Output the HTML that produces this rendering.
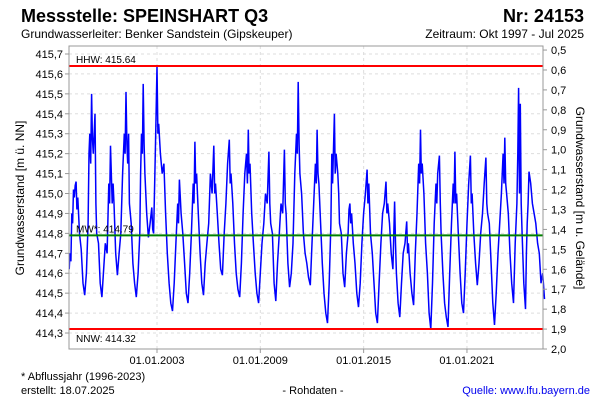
<!DOCTYPE html>
<html><head><meta charset="utf-8"><style>
body{margin:0;background:#fff;font-family:"Liberation Sans",sans-serif;}
svg text{font-family:"Liberation Sans",sans-serif;}
</style></head><body>
<svg width="600" height="400" viewBox="0 0 600 400">
<text x="21" y="22" font-size="18" font-weight="bold">Messstelle: SPEINSHART Q3</text>
<text x="584" y="22" font-size="18" font-weight="bold" text-anchor="end">Nr: 24153</text>
<text x="21" y="38" font-size="12">Grundwasserleiter:   Benker Sandstein (Gipskeuper)</text>
<text x="584" y="38" font-size="12" text-anchor="end">Zeitraum: Okt 1997 - Jul 2025</text>
<g id="grid"></g>
<g id="plot"></g>
<rect x="69" y="46" width="474" height="303" fill="none" stroke="#999" stroke-width="1"/>
<g id="axes"></g>
<text transform="translate(24,198) rotate(-90)" font-size="12" text-anchor="middle">Grundwasserstand [m ü. NN]</text>
<text transform="translate(576,198) rotate(90)" font-size="12" text-anchor="middle">Grundwasserstand [m u. Gelände]</text>
<text x="21" y="380" font-size="11">* Abflussjahr (1996-2023)</text>
<text x="21" y="394" font-size="11">erstellt:  18.07.2025</text>
<text x="313" y="394" font-size="11" text-anchor="middle">- Rohdaten -</text>
<text x="590" y="394" font-size="11" fill="#0000ee" text-anchor="end">Quelle: www.lfu.bayern.de</text>
</svg>
<script>
const leftTicks=[415.7,415.6,415.5,415.4,415.3,415.2,415.1,415.0,414.9,414.8,414.7,414.6,414.5,414.4,414.3];
const rightTicks=[0.5,0.6,0.7,0.8,0.9,1.0,1.1,1.2,1.3,1.4,1.5,1.6,1.7,1.8,1.9,2.0];
const dateTicks=[2003,2009,2015,2021];
const dateLabels=["01.01.2003","01.01.2009","01.01.2015","01.01.2021"];
const refNames=["HHW: 415.64","MW*: 414.79","NNW: 414.32"];
const refValues=[415.64,414.79,414.32];
const years=[1997.9,1997.95,1998.0,1998.05,1998.1,1998.15,1998.2,1998.25,1998.3,1998.35,1998.4,1998.5,1998.6,1998.7,1998.8,1998.9,1999.0,1999.05,1999.1,1999.15,1999.2,1999.25,1999.3,1999.4,1999.45,1999.5,1999.6,1999.7,1999.8,
2000.0,2000.1,2000.2,2000.25,2000.3,2000.4,2000.45,2000.5,2000.6,2000.7,2000.8,2000.9,2001.0,2001.1,2001.15,2001.2,2001.25,2001.3,2001.35,2001.4,2001.5,2001.6,2001.7,2001.8,2001.9,2002.0,2002.05,2002.1,2002.15,2002.2,2002.25,2002.3,2002.4,2002.5,2002.6,2002.7,2002.75,2002.8,2002.9,2002.95,2003.0,2003.05,2003.1,2003.2,2003.3,2003.4,2003.5,2003.6,2003.7,2003.8,2003.9,
2004.0,2004.1,2004.2,2004.25,2004.3,2004.4,2004.5,2004.6,2004.7,2004.8,2004.9,2005.0,2005.1,2005.15,2005.2,2005.25,2005.3,2005.4,2005.5,2005.6,2005.7,2005.8,2005.9,2006.0,2006.1,2006.2,2006.3,2006.35,2006.4,2006.5,2006.6,2006.7,2006.8,2006.9,2007.0,2007.1,2007.2,2007.25,2007.3,2007.4,2007.5,2007.6,2007.7,2007.8,2007.9,2008.0,2008.1,2008.2,2008.25,2008.3,2008.35,2008.4,2008.5,2008.6,2008.7,2008.8,2008.9,
2009.0,2009.1,2009.2,2009.3,2009.4,2009.5,2009.55,2009.6,2009.7,2009.8,2009.9,2010.0,2010.1,2010.2,2010.3,2010.4,2010.45,2010.5,2010.6,2010.7,2010.8,2010.9,2011.0,2011.1,2011.15,2011.2,2011.25,2011.3,2011.4,2011.5,2011.6,2011.7,2011.8,2011.9,2012.0,2012.1,2012.2,2012.25,2012.3,2012.35,2012.4,2012.5,2012.6,2012.7,2012.8,2012.9,2013.0,2013.1,2013.15,2013.2,2013.3,2013.35,2013.4,2013.5,2013.55,2013.6,2013.7,2013.8,2013.9,
2014.0,2014.1,2014.15,2014.2,2014.25,2014.3,2014.4,2014.5,2014.6,2014.7,2014.8,2014.9,2015.0,2015.1,2015.2,2015.25,2015.3,2015.4,2015.5,2015.6,2015.7,2015.8,2015.9,2016.0,2016.1,2016.2,2016.3,2016.35,2016.4,2016.5,2016.6,2016.7,2016.8,2016.85,2016.9,2017.0,2017.1,2017.2,2017.3,2017.4,2017.5,2017.55,2017.6,2017.7,2017.8,2017.9,2018.0,2018.1,2018.2,2018.25,2018.3,2018.35,2018.4,2018.5,2018.6,2018.7,2018.8,2018.9,
2019.0,2019.1,2019.2,2019.25,2019.3,2019.4,2019.45,2019.5,2019.6,2019.7,2019.8,2019.9,2020.0,2020.1,2020.2,2020.25,2020.3,2020.35,2020.4,2020.5,2020.6,2020.7,2020.8,2020.9,2021.0,2021.1,2021.2,2021.25,2021.3,2021.4,2021.5,2021.6,2021.7,2021.8,2021.9,2022.0,2022.1,2022.15,2022.2,2022.3,2022.4,2022.5,2022.6,2022.7,2022.8,2022.9,2023.0,2023.1,2023.15,2023.2,2023.25,2023.3,2023.4,2023.5,2023.6,2023.7,2023.8,2023.9,2023.95,2024.0,2024.05,2024.1,2024.15,2024.2,2024.3,2024.4,2024.45,2024.5,2024.55,2024.6,2024.7,2024.8,2024.9,2025.0,2025.1,2025.2,2025.3,2025.4,2025.5];
const levels=[414.62,414.70,414.66,414.90,414.85,415.02,414.98,415.04,415.06,414.92,414.98,414.80,414.72,414.55,414.49,414.60,414.85,415.20,415.30,415.15,415.50,415.28,415.20,415.40,414.95,414.80,414.75,414.55,414.48,
414.75,414.70,415.05,414.95,415.24,414.95,415.05,414.95,414.70,414.59,414.70,414.80,415.10,415.30,415.20,415.51,415.25,415.15,415.30,414.95,414.85,414.65,414.55,414.48,414.60,414.80,415.10,415.30,415.20,415.55,415.25,415.10,414.90,414.78,414.85,414.93,414.82,414.80,415.20,415.40,415.64,415.30,415.35,415.20,415.10,415.15,414.90,414.70,414.55,414.45,414.41,
414.55,414.75,414.95,414.85,415.07,414.90,414.80,414.65,414.50,414.45,414.60,414.80,415.05,414.95,415.26,415.05,415.10,414.90,414.70,414.55,414.49,414.65,414.75,414.85,415.10,415.00,415.24,415.00,415.05,414.90,414.75,414.62,414.59,414.80,414.95,415.15,415.27,415.05,415.10,414.95,414.75,414.60,414.52,414.48,414.65,414.90,415.10,415.20,415.05,415.32,415.10,415.15,414.90,414.75,414.60,414.50,414.45,
414.60,414.75,414.85,415.00,414.95,415.21,414.95,414.85,414.80,414.55,414.46,414.65,414.80,414.95,414.90,415.22,414.95,414.90,414.65,414.53,414.60,414.75,415.10,415.30,415.20,415.56,415.25,415.10,415.00,414.80,414.70,414.65,414.58,414.54,414.75,414.95,415.15,415.05,415.32,415.10,415.05,414.85,414.65,414.50,414.40,414.35,414.55,414.85,415.20,415.05,415.40,415.10,415.20,415.10,415.00,414.85,414.80,414.60,414.53,
414.70,414.80,414.92,414.95,414.85,414.90,414.75,414.65,414.50,414.43,414.55,414.75,414.90,415.00,415.12,414.95,415.05,414.80,414.70,414.55,414.40,414.35,414.55,414.75,414.90,414.95,415.06,414.90,414.95,414.85,414.70,414.62,414.96,414.75,414.60,414.45,414.38,414.55,414.70,414.75,414.86,414.70,414.75,414.60,414.50,414.44,414.70,414.90,415.15,415.05,415.32,415.10,415.15,415.00,414.75,414.60,414.40,414.32,
414.55,414.85,415.05,414.95,415.10,415.19,414.95,414.80,414.60,414.45,414.38,414.33,414.60,414.85,415.05,414.95,415.21,414.95,415.00,414.80,414.60,414.45,414.40,414.60,414.85,415.05,415.19,414.95,415.00,414.80,414.65,414.54,414.65,414.80,414.90,415.05,415.18,414.95,414.90,414.85,414.65,414.45,414.34,414.50,414.70,414.85,415.00,415.20,415.05,415.28,415.05,415.00,414.90,414.70,414.55,414.45,414.75,414.95,415.20,415.53,415.00,415.45,414.95,414.80,414.55,414.42,414.70,414.85,414.95,415.11,415.05,414.95,414.90,414.85,414.75,414.70,414.55,414.60,414.47];
const NS="http://www.w3.org/2000/svg";
const X0=69,X1=543,Y0=46,Y1=349;
const xS=y=>157+(y-2003)*17.22;
const yL=v=>54+(415.7-v)*199.3;
const yR=d=>349-(2.0-d)*199.3;
function mk(t,a,p){const e=document.createElementNS(NS,t);for(const k in a)e.setAttribute(k,a[k]);p.appendChild(e);return e;}
const grid=document.getElementById('grid'),axes=document.getElementById('axes'),plot=document.getElementById('plot');
leftTicks.forEach(v=>{const y=yL(v);
 const g=mk('line',{x1:X0,x2:X1,y1:y,y2:y,stroke:'#ddd','stroke-dasharray':'3,3'},grid);
 
 
 const t=mk('line',{x1:X0-4,x2:X0,y1:y,y2:y,stroke:'#999'},axes);
 
 
 const l=mk('text',{x:X0-6,y:y+4,'font-size':11,'text-anchor':'end'},axes);l.textContent=v.toFixed(1).replace('.',',');
 
 });
rightTicks.forEach(d=>{const y=yR(d);
 const t=mk('line',{x1:X1,x2:X1+4,y1:y,y2:y,stroke:'#999'},axes);
 
 
 const l=mk('text',{x:X1+8,y:y+4,'font-size':11},axes);l.textContent=d.toFixed(1).replace('.',',');
 
 });
dateTicks.forEach((yr,i)=>{const x=xS(yr);
 const g=mk('line',{x1:x,x2:x,y1:Y0,y2:Y1,stroke:'#ddd','stroke-dasharray':'3,3'},grid);
 
 
 const t=mk('line',{x1:x,x2:x,y1:Y1,y2:Y1+4,stroke:'#999'},axes);
 
 
 const l=mk('text',{x:x,y:Y1+15,'font-size':11,'text-anchor':'middle'},axes);l.textContent=dateLabels[i];
 
 });
const pts=years.map((yr,i)=>xS(yr).toFixed(1)+','+yL(levels[i]).toFixed(1)).join(' ');
const line=mk('polyline',{points:pts,fill:'none',stroke:'#0000ff','stroke-width':1.5},plot);


refValues.forEach((v,i)=>{const y=yL(v);
 const l=mk('line',{x1:X0,x2:X1,y1:y,y2:y,stroke:i==1?'#008000':'#ff0000','stroke-width':2},plot);
 
 
 const t=mk('text',{x:76,y:i==2?y+13:y-3,'font-size':10},plot);t.textContent=refNames[i];
 
 });
</script>
</body></html>
